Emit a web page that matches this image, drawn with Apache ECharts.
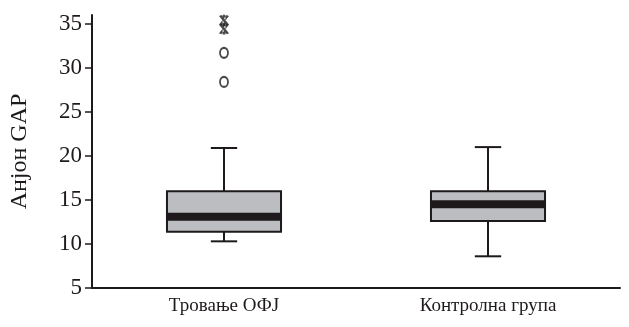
<!DOCTYPE html>
<html>
<head>
<meta charset="utf-8">
<script src="https://cdn.jsdelivr.net/npm/echarts@6/dist/echarts.min.js"></script>
<style>html,body{margin:0;padding:0;background:#fff}#c{width:629px;height:327px}</style>
</head>
<body>
<div id="c"></div>
<script>
const categories = ['Тровање ОФЈ', 'Контролна група'];
// [min, Q1, median, Q3, max]
const boxStats = [
  [10.3, 11.4, 13.1, 16.0, 20.9],
  [8.6, 12.6, 14.5, 16.0, 21.0]
];
const circleOutliers = [[0, 31.7], [0, 28.4]];
const starOutliers = [[0, 35.4], [0, 34.4]];
const yTicks = [5, 10, 15, 20, 25, 30, 35];
const yAxisTitle = 'Анјон GAP';

const font = '"Liberation Serif", "DejaVu Serif", serif';
const dark = '#1e1a1b';
const asterisk = 'path://M4.1 0H5.9V10H4.1Z M1.72 1.12L3.28 0.22L8.28 8.88L6.72 9.78Z M1.72 8.88L3.28 9.78L8.28 1.12L6.72 0.22Z';

const chart = echarts.init(document.getElementById('c'));
chart.setOption({
  animation: false,
  grid: {left: 92, right: 9, top: 15, bottom: 39},
  xAxis: {
    type: 'category',
    data: categories,
    axisLine: {lineStyle: {color: dark, width: 2}},
    axisTick: {alignWithLabel: true, length: 6, lineStyle: {color: dark, width: 1.5}},
    axisLabel: {color: dark, fontFamily: font, fontSize: 19, margin: 9}
  },
  yAxis: {
    type: 'value',
    min: 5, max: 36,
    name: yAxisTitle,
    nameLocation: 'middle',
    nameGap: 60,
    nameTextStyle: {color: dark, fontFamily: font, fontSize: 24},
    splitLine: {show: false},
    axisLine: {show: true, lineStyle: {color: dark, width: 2}},
    axisTick: {show: true, length: 7, customValues: yTicks, lineStyle: {color: dark, width: 1.5}},
    axisLabel: {color: dark, fontFamily: font, fontSize: 23, margin: 10, customValues: yTicks}
  },
  series: [
    {
      type: 'custom',
      data: boxStats.map((s, i) => [i].concat(s)),
      encode: {x: 0, y: [1, 2, 3, 4, 5]},
      renderItem: function (params, api) {
        const i = api.value(0);
        const bw = api.size([1, 0])[0];
        const half = bw * 0.216;
        const capHalf = bw * 0.05;
        const pMin = api.coord([i, api.value(1)]);
        const pQ1 = api.coord([i, api.value(2)]);
        const pMed = api.coord([i, api.value(3)]);
        const pQ3 = api.coord([i, api.value(4)]);
        const pMax = api.coord([i, api.value(5)]);
        const x = pQ1[0];
        const ls = {stroke: dark, lineWidth: 2};
        return {
          type: 'group',
          children: [
            {type: 'line', shape: {x1: x, y1: pQ3[1], x2: x, y2: pMax[1]}, style: ls},
            {type: 'line', shape: {x1: x, y1: pQ1[1], x2: x, y2: pMin[1]}, style: ls},
            {type: 'line', shape: {x1: x - capHalf, y1: pMax[1], x2: x + capHalf, y2: pMax[1]}, style: ls},
            {type: 'line', shape: {x1: x - capHalf, y1: pMin[1], x2: x + capHalf, y2: pMin[1]}, style: ls},
            {type: 'rect', shape: {x: x - half, y: pQ3[1], width: half * 2, height: pQ1[1] - pQ3[1]},
              style: {fill: '#bcbdc1', stroke: dark, lineWidth: 2}},
            {type: 'rect', shape: {x: x - half, y: pMed[1] - 4, width: half * 2, height: 8},
              style: {fill: dark}}
          ]
        };
      }
    },
    {
      type: 'scatter',
      data: circleOutliers,
      symbol: 'emptyCircle',
      symbolSize: [8, 10],
      itemStyle: {color: dark, borderColor: dark, borderWidth: 2.5}
    },
    {
      type: 'scatter',
      data: starOutliers,
      symbol: asterisk,
      symbolSize: [10, 11],
      itemStyle: {color: dark}
    }
  ]
});
</script>
</body>
</html>
